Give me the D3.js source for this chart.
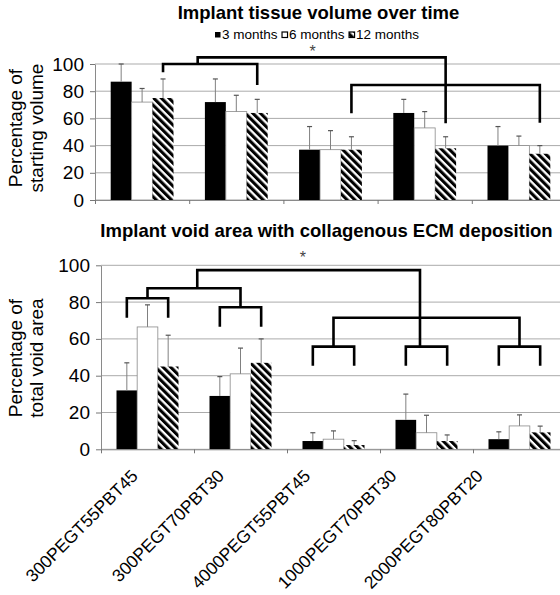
<!DOCTYPE html>
<html>
<head>
<meta charset="utf-8">
<script src="https://cdn.jsdelivr.net/npm/d3@7/dist/d3.min.js"></script>
<style>
body { margin: 0; background: #fff; }
svg { display: block; font-family: "Liberation Sans", Arial, sans-serif; }
</style>
</head>
<body>
<div id="chart"></div>
<script>
var categories = ["300PEGT55PBT45", "300PEGT70PBT30", "4000PEGT55PBT45", "1000PEGT70PBT30", "2000PEGT80PBT20"];
var series = ["3 months", "6 months", "12 months"];
var yTicks = [0, 20, 40, 60, 80, 100];

// implant tissue volume, % of starting volume (mean and sd)
var volume3 = [87, 72, 37, 64, 40];
var volume6 = [72, 65, 37, 53, 40];
var volume12 = [75, 64, 37, 38, 34];
var volumeSd3 = [13, 17, 17, 10, 14];
var volumeSd6 = [10, 12, 14, 12, 7];
var volumeSd12 = [14, 10, 9.5, 8.5, 6];

// void area with collagenous ECM, % of total void area
var voidArea3 = [32, 29, 4.5, 16, 5.5];
var voidArea6 = [66.5, 41, 5.5, 9, 12.7];
var voidArea12 = [45, 47, 2.3, 4.5, 9.2];
var voidSd3 = [15, 10.5, 4.5, 14, 4];
var voidSd6 = [12, 14, 4.5, 9.5, 6];
var voidSd12 = [17, 13, 2.4, 3.3, 3.4];

// significance brackets: ends are [category, series], [category] or a position in category units
var volumeBrackets = [
  {a: [0, "12 months"], b: [1, "12 months"], top: 100, legA: 94, legB: 84.5},
  {a: [2, "12 months"], b: [4, "12 months"], top: 84.6, legA: 63.7, legB: 56.8},
  {a: 1.09, b: [3, "12 months"], top: 104.9, legA: 100, legB: 56.4}
];
var voidBrackets = [
  {a: [0, "3 months"], b: [0, "12 months"], top: 82.1, legA: 71.5, legB: 71.5},
  {a: [1, "3 months"], b: [1, "12 months"], top: 77.2, legA: 66.6, legB: 66.6},
  {a: [0], b: [1], top: 87.5, legA: 82.1, legB: 77.2},
  {a: 1.035, b: 3.43, top: 97.4, legA: 87.5, legB: 55.8},
  {a: [2], b: [4], top: 71.5, legA: 55.8, legB: 55.8},
  {a: [2, "3 months"], b: [2, "12 months"], top: 55.8, legA: 45.4, legB: 45.4},
  {a: [3, "3 months"], b: [3, "12 months"], top: 55.8, legA: 45.4, legB: 45.4},
  {a: [4, "3 months"], b: [4, "12 months"], top: 55.8, legA: 45.4, legB: 45.4}
];

var width = 560, height = 595;

var svg = d3.select("#chart").append("svg")
  .attr("width", width)
  .attr("height", height);

var defs = svg.append("defs");
var hatch = defs.append("pattern")
  .attr("id", "hatch")
  .attr("patternUnits", "userSpaceOnUse")
  .attr("width", 5.4)
  .attr("height", 5.4)
  .attr("patternTransform", "rotate(-45)");
hatch.append("rect").attr("width", 5.4).attr("height", 5.4).attr("fill", "#fff");
hatch.append("rect").attr("width", 3.1).attr("height", 5.4).attr("fill", "#000");

var fills = {"3 months": "#000", "6 months": "#fff", "12 months": "url(#hatch)"};

function drawPanel(p) {
  var g = svg.append("g");

  var x0 = d3.scaleBand().domain(categories).range([p.left, p.right]);
  var x1 = d3.scaleBand().domain(series).range([0, x0.bandwidth()]).paddingOuter(0.75);
  var xc = d3.scaleLinear().domain([0, categories.length]).range([p.left, p.right]);
  var y = d3.scaleLinear().domain([0, 100]).range([p.bottom, p.top]);

  // gridlines
  g.selectAll(".grid")
    .data(yTicks)
    .enter()
    .append("line")
    .attr("x1", p.left)
    .attr("x2", p.right)
    .attr("y1", function(d) { return y(d); })
    .attr("y2", function(d) { return y(d); })
    .style("stroke", "#ababab")
    .style("stroke-width", 1);

  var bars = [];
  categories.forEach(function(c, i) {
    series.forEach(function(s, j) {
      bars.push({c: c, s: s, v: p.values[j][i], sd: p.sds[j][i]});
    });
  });

  g.selectAll(".bar")
    .data(bars)
    .enter()
    .append("rect")
    .attr("x", function(d) { return x0(d.c) + x1(d.s); })
    .attr("y", function(d) { return y(d.v); })
    .attr("width", x1.bandwidth())
    .attr("height", function(d) { return y(0) - y(d.v); })
    .style("fill", function(d) { return fills[d.s]; })
    .style("stroke", function(d) { return d.s == "6 months" ? "#8a8a8a" : "none"; })
    .style("stroke-width", 0.8);

  var cx = function(d) { return x0(d.c) + x1(d.s) + x1.bandwidth() / 2; };

  g.selectAll(".err")
    .data(bars)
    .enter()
    .append("line")
    .attr("x1", cx)
    .attr("x2", cx)
    .attr("y1", function(d) { return y(d.v); })
    .attr("y2", function(d) { return y(d.v + d.sd); })
    .style("stroke", "#808080")
    .style("stroke-width", 1);

  g.selectAll(".cap")
    .data(bars)
    .enter()
    .append("line")
    .attr("x1", function(d) { return cx(d) - 2.5; })
    .attr("x2", function(d) { return cx(d) + 2.5; })
    .attr("y1", function(d) { return y(d.v + d.sd); })
    .attr("y2", function(d) { return y(d.v + d.sd); })
    .style("stroke", "#555")
    .style("stroke-width", 1.2);

  // axes
  var yAxis = g.append("g")
    .attr("transform", "translate(" + p.left + ",0)")
    .call(d3.axisLeft(y).tickValues(yTicks).tickSize(5).tickSizeOuter(0).tickPadding(6));
  yAxis.selectAll("text").style("font-size", "19px").style("fill", "#000");
  yAxis.selectAll("line").style("stroke", "#777");
  yAxis.select(".domain").style("stroke", "#8a8a8a");

  var xAxis = g.append("g")
    .attr("transform", "translate(0," + p.bottom + ")")
    .call(d3.axisBottom(xc).tickValues(d3.range(categories.length + 1)).tickSize(4).tickSizeOuter(0).tickFormat(""));
  xAxis.selectAll("line").style("stroke", "#777");
  xAxis.select(".domain").style("stroke", "#8a8a8a");

  // brackets
  function pos(e) {
    if (typeof e == "number") return xc(e);
    var c = categories[e[0]];
    if (e.length == 1) return x0(c) + x0.bandwidth() / 2;
    return x0(c) + x1(e[1]) + x1.bandwidth() / 2;
  }

  g.selectAll(".bracket")
    .data(p.brackets)
    .enter()
    .append("path")
    .attr("d", function(d) {
      return "M" + pos(d.a) + "," + y(d.legA) + "V" + y(d.top) + "H" + pos(d.b) + "V" + y(d.legB);
    })
    .style("fill", "none")
    .style("stroke", "#000")
    .style("stroke-width", 2.6);

  g.append("text")
    .attr("x", xc(p.star[0]))
    .attr("y", y(p.star[1]) + 9)
    .attr("text-anchor", "middle")
    .style("font-size", "16px")
    .style("fill", "#444")
    .text("*");

  // titles
  g.append("text")
    .attr("x", p.titleX)
    .attr("y", p.titleY)
    .attr("text-anchor", "middle")
    .style("font-size", "18.5px")
    .style("font-weight", "bold")
    .text(p.title);

  var yMid = (y(0) + y(100)) / 2 + p.yLabelShift;
  p.yLabel.forEach(function(line, i) {
    g.append("text")
      .attr("transform", "translate(" + (21.5 + i * 21) + "," + yMid + ") rotate(-90)")
      .attr("text-anchor", "middle")
      .style("font-size", "19px")
      .text(line);
  });

  return x0;
}

drawPanel({
  left: 95, right: 566, top: 64, bottom: 200,
  values: [volume3, volume6, volume12],
  sds: [volumeSd3, volumeSd6, volumeSd12],
  brackets: volumeBrackets,
  star: [2.31, 111.8],
  title: "Implant tissue volume over time",
  titleX: 318.5, titleY: 18.5,
  yLabel: ["Percentage of", "starting volume"],
  yLabelShift: -4
});

drawPanel({
  left: 101, right: 566, top: 265.3, bottom: 449.3,
  values: [voidArea3, voidArea6, voidArea12],
  sds: [voidSd3, voidSd6, voidSd12],
  brackets: voidBrackets,
  star: [2.17, 106],
  title: "Implant void area with collagenous ECM deposition",
  titleX: 326.5, titleY: 237,
  yLabel: ["Percentage of", "total void area"],
  yLabelShift: 0.7
});

// legend
var lx = 215;
series.forEach(function(s) {
  svg.append("rect")
    .attr("x", lx)
    .attr("y", 32)
    .attr("width", 5.5)
    .attr("height", 5.5)
    .style("fill", fills[s])
    .style("stroke", "#000")
    .style("stroke-width", s == "3 months" ? 0 : 1.2);
  var t = svg.append("text")
    .attr("x", lx + 7)
    .attr("y", 38.5)
    .style("font-size", "13.5px")
    .text(s);
  lx += 7 + t.node().getComputedTextLength() + 4.5;
});

// category labels under the lower panel
var xl = d3.scalePoint().domain(categories).range([139, 484]);
svg.selectAll(".xlabel")
  .data(categories)
  .enter()
  .append("text")
  .attr("transform", function(d) { return "translate(" + xl(d) + ",477) rotate(-45)"; })
  .attr("text-anchor", "end")
  .style("font-size", "17.5px")
  .text(function(d) { return d; });
</script>
</body>
</html>
